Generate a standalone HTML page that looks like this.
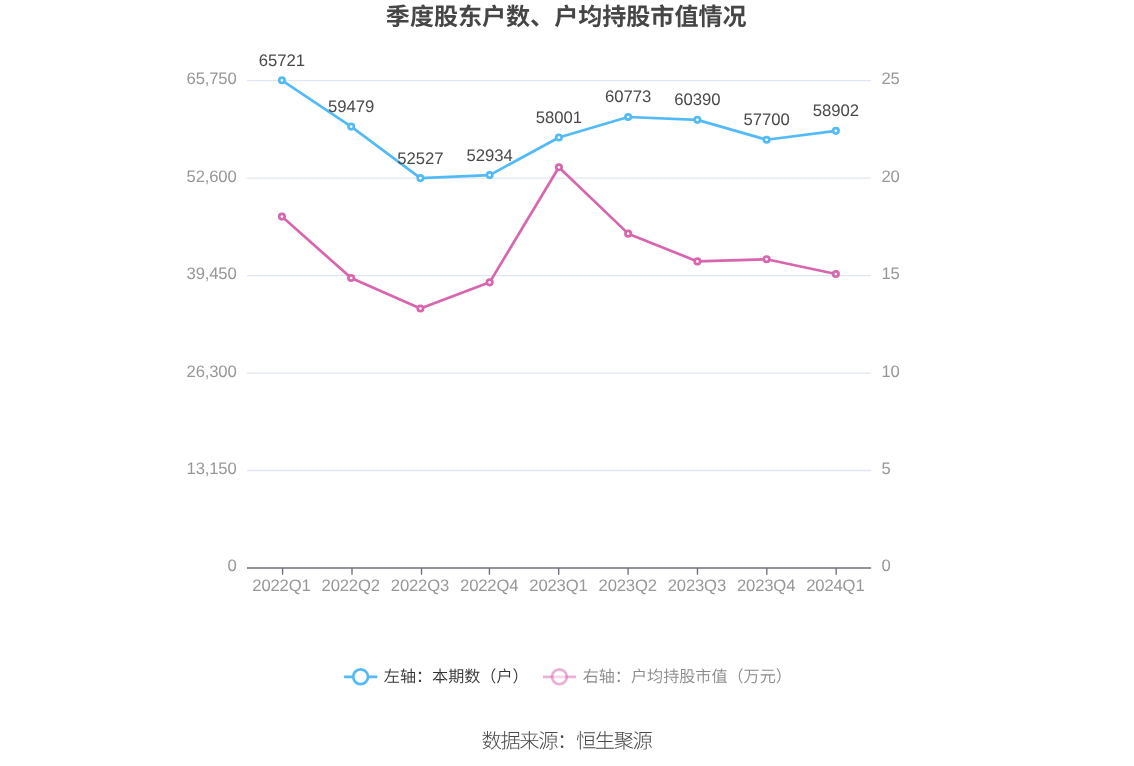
<!DOCTYPE html>
<html lang="zh-CN"><head><meta charset="utf-8"><title>季度股东户数、户均持股市值情况</title>
<style>
html,body{margin:0;padding:0;background:#fff;}
body{width:1134px;height:766px;overflow:hidden;}
svg{display:block;font-family:"Liberation Sans","Noto Sans CJK SC",sans-serif;will-change:transform;text-rendering:geometricPrecision;}
.ax{font-size:16.65px;fill:#979797;letter-spacing:-0.17px;}
.dl{font-size:16.7px;fill:#494949;}
.lg{font-size:16.1px;font-weight:350;}
</style></head><body>
<svg width="1134" height="766" viewBox="0 0 1134 766">
<rect width="1134" height="766" fill="#fff"/>
<text x="566.2" y="25.1" text-anchor="middle" font-size="24.05" font-weight="bold" fill="#464646">季度股东户数、户均持股市值情况</text>

<g stroke="#e0e6f1" stroke-width="1.35" fill="none">
<line x1="247.0" y1="80.68" x2="871.0" y2="80.68"/>
<line x1="247.0" y1="178.14" x2="871.0" y2="178.14"/>
<line x1="247.0" y1="275.61" x2="871.0" y2="275.61"/>
<line x1="247.0" y1="373.07" x2="871.0" y2="373.07"/>
<line x1="247.0" y1="470.54" x2="871.0" y2="470.54"/>
</g>
<g stroke="#6e7079" stroke-width="1.35" fill="none"><line x1="247.0" y1="568.00" x2="871.1" y2="568.00"/>
<line x1="282.60" y1="568.00" x2="282.60" y2="574.70"/>
<line x1="352.00" y1="568.00" x2="352.00" y2="574.70"/>
<line x1="421.50" y1="568.00" x2="421.50" y2="574.70"/>
<line x1="489.40" y1="568.00" x2="489.40" y2="574.70"/>
<line x1="558.70" y1="568.00" x2="558.70" y2="574.70"/>
<line x1="628.10" y1="568.00" x2="628.10" y2="574.70"/>
<line x1="697.45" y1="568.00" x2="697.45" y2="574.70"/>
<line x1="766.80" y1="568.00" x2="766.80" y2="574.70"/>
<line x1="836.15" y1="568.00" x2="836.15" y2="574.70"/>
</g>
<g class="ax" text-anchor="end">
<text x="236.5" y="84">65,750</text>
<text x="236.5" y="182">52,600</text>
<text x="236.5" y="279">39,450</text>
<text x="236.5" y="377">26,300</text>
<text x="236.5" y="474">13,150</text>
<text x="236.5" y="571">0</text>
</g><g class="ax" text-anchor="start">
<text x="881.4" y="84">25</text>
<text x="881.4" y="182">20</text>
<text x="881.4" y="279">15</text>
<text x="881.4" y="377">10</text>
<text x="881.4" y="474">5</text>
<text x="881.4" y="571">0</text>
</g><g class="ax" text-anchor="middle">
<text x="281.45" y="591">2022Q1</text>
<text x="350.69" y="591">2022Q2</text>
<text x="419.93" y="591">2022Q3</text>
<text x="489.17" y="591">2022Q4</text>
<text x="558.41" y="591">2023Q1</text>
<text x="627.65" y="591">2023Q2</text>
<text x="696.89" y="591">2023Q3</text>
<text x="766.13" y="591">2023Q4</text>
<text x="835.37" y="591">2024Q1</text>
</g>
<polyline points="281.95,80.31 351.19,126.58 420.43,178.11 489.67,175.09 558.91,137.54 628.15,116.99 697.39,119.83 766.63,139.77 835.87,130.86" fill="none" stroke="#52bbf7" stroke-width="2.7" stroke-linejoin="bevel"/>
<g fill="#fff" stroke="#52bbf7" stroke-width="2.7">
<circle cx="281.95" cy="80.31" r="2.7"/>
<circle cx="351.19" cy="126.58" r="2.7"/>
<circle cx="420.43" cy="178.11" r="2.7"/>
<circle cx="489.67" cy="175.09" r="2.7"/>
<circle cx="558.91" cy="137.54" r="2.7"/>
<circle cx="628.15" cy="116.99" r="2.7"/>
<circle cx="697.39" cy="119.83" r="2.7"/>
<circle cx="766.63" cy="139.77" r="2.7"/>
<circle cx="835.87" cy="130.86" r="2.7"/>
</g>
<polyline points="281.95,216.60 351.19,278.00 420.43,308.50 489.67,282.35 558.91,167.30 628.15,233.65 697.39,261.40 766.63,259.20 835.87,274.05" fill="none" stroke="#d766ae" stroke-width="2.7" stroke-linejoin="bevel"/>
<g fill="#fff" stroke="#d766ae" stroke-width="2.7">
<circle cx="281.95" cy="216.60" r="2.7"/>
<circle cx="351.19" cy="278.00" r="2.7"/>
<circle cx="420.43" cy="308.50" r="2.7"/>
<circle cx="489.67" cy="282.35" r="2.7"/>
<circle cx="558.91" cy="167.30" r="2.7"/>
<circle cx="628.15" cy="233.65" r="2.7"/>
<circle cx="697.39" cy="261.40" r="2.7"/>
<circle cx="766.63" cy="259.20" r="2.7"/>
<circle cx="835.87" cy="274.05" r="2.7"/>
</g>
<g class="dl" text-anchor="middle">
<text x="281.95" y="66">65721</text>
<text x="351.19" y="112">59479</text>
<text x="420.43" y="164">52527</text>
<text x="489.67" y="161">52934</text>
<text x="558.91" y="123">58001</text>
<text x="628.15" y="102">60773</text>
<text x="697.39" y="105">60390</text>
<text x="766.63" y="125">57700</text>
<text x="835.87" y="116">58902</text>
</g>
<g fill="none" stroke="#52bbf7" stroke-width="2.7"><line x1="344.1" y1="676.8" x2="377.3" y2="676.8"/><circle cx="360.6" cy="676.8" r="7.4" fill="#fff"/></g>
<text class="lg" x="383.8" y="681.6" fill="#333">左轴：本期数（户）</text>
<g fill="none" stroke="#d766ae" stroke-width="2.7"><line x1="542.9" y1="676.8" x2="576.1" y2="676.8" opacity="0.5"/><circle cx="559.4" cy="676.8" r="7.4" fill="#fff" opacity="0.5"/></g>
<text class="lg" x="582.7" y="681.6" fill="#8a8a8a">右轴：户均持股市值（万元）</text>
<text x="566.5" y="748.4" text-anchor="middle" font-size="20.3" letter-spacing="-1.42" font-weight="300" fill="#484848">数据来源：恒生聚源</text>
</svg>
</body></html>
